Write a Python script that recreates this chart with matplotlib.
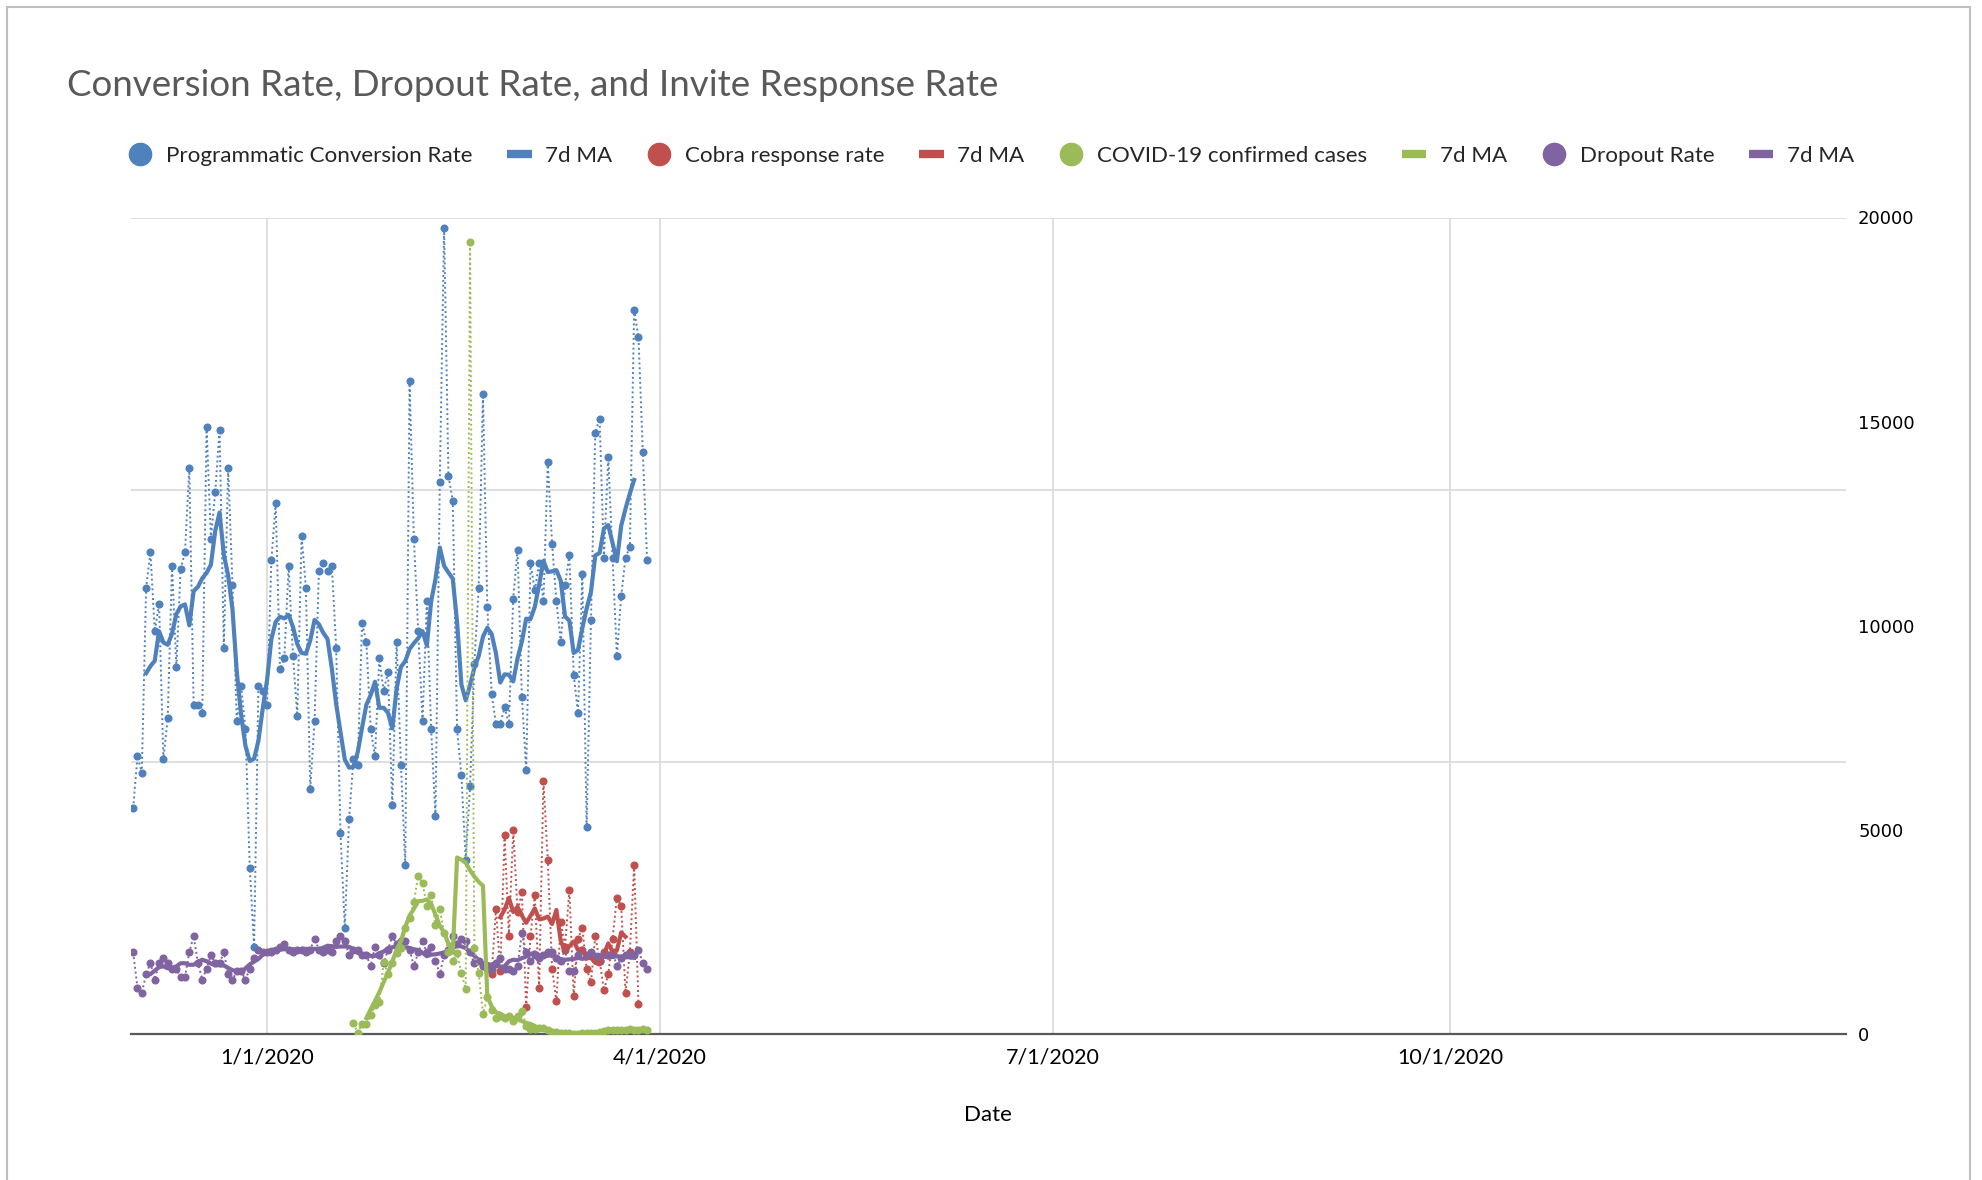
import matplotlib
matplotlib.use("Agg")
import matplotlib.pyplot as plt
from matplotlib.lines import Line2D
from matplotlib.patches import Rectangle
import pandas as pd

plt.rcParams['font.family'] = ['Lato', 'DejaVu Sans']

# daily values
conv_start = '2019-12-01'
conv_rate = [0.83, 1.02, 0.96, 1.64, 1.77, 1.48, 1.58, 1.01, 1.16, 1.72,
             1.35, 1.71, 1.77, 2.08, 1.21, 1.21, 1.18, 2.23, 1.82, 1.99,
             2.22, 1.42, 2.08, 1.65, 1.15, 1.28, 1.12, 0.61, 0.32, 1.28,
             1.26, 1.21, 1.74, 1.95, 1.34, 1.38, 1.72, 1.39, 1.17, 1.83,
             1.64, 0.90, 1.15, 1.70, 1.73, 1.70, 1.72, 1.42, 0.74, 0.39,
             0.79, 1.01, 0.99, 1.51, 1.44, 1.12, 1.02, 1.38, 1.26, 1.33,
             0.84, 1.44, 0.99, 0.62, 2.40, 1.82, 1.48, 1.15, 1.59, 1.12,
             0.80, 2.03, 2.96, 2.05, 1.96, 1.12, 0.95, 0.64, 0.91, 1.36,
             1.64, 2.35, 1.57, 1.25, 1.14, 1.14, 1.20, 1.14, 1.60, 1.78,
             1.24, 0.97, 1.73, 1.63, 1.73, 1.59, 2.10, 1.80, 1.59, 1.44,
             1.65, 1.76, 1.32, 1.18, 1.69, 0.76, 1.52, 2.21, 2.26, 1.75,
             2.12, 1.75, 1.39, 1.61, 1.75, 1.79, 2.66, 2.56, 2.14, 1.74]

dropout_start = '2019-12-01'
dropout_rate = [0.30, 0.17, 0.15, 0.22, 0.26, 0.20, 0.26, 0.28, 0.26, 0.24,
                0.24, 0.21, 0.21, 0.30, 0.36, 0.26, 0.20, 0.24, 0.29, 0.26,
                0.26, 0.30, 0.22, 0.20, 0.23, 0.23, 0.20, 0.24, 0.28, 0.31,
                0.30, 0.30, 0.30, 0.31, 0.32, 0.33, 0.31, 0.30, 0.31, 0.31,
                0.30, 0.31, 0.35, 0.31, 0.30, 0.31, 0.30, 0.34, 0.36, 0.34,
                0.29, 0.31, 0.31, 0.29, 0.29, 0.25, 0.32, 0.29, 0.26, 0.31,
                0.36, 0.33, 0.34, 0.34, 0.31, 0.25, 0.30, 0.34, 0.30, 0.32,
                0.27, 0.22, 0.29, 0.31, 0.36, 0.33, 0.35, 0.34, 0.30, 0.26,
                0.27, 0.25, 0.24, 0.24, 0.26, 0.28, 0.24, 0.24, 0.23, 0.25,
                0.37, 0.30, 0.27, 0.29, 0.28, 0.29, 0.30, 0.30, 0.28, 0.27,
                0.31, 0.23, 0.23, 0.29, 0.31, 0.29, 0.30, 0.28, 0.27, 0.30,
                0.29, 0.30, 0.25, 0.28, 0.29, 0.29, 0.29, 0.31, 0.26, 0.24]

cobra_start = '2020-02-21'
cobra_rate = [0.25, 0.22, 0.46, 0.23, 0.73, 0.36, 0.75, 0.45, 0.52, 0.10,
              0.36, 0.51, 0.17, 0.93, 0.64, 0.24, 0.12, 0.41, 0.32, 0.53,
              0.14, 0.35, 0.39, 0.24, 0.19, 0.36, 0.27, 0.16, 0.22, 0.35,
              0.50, 0.47, 0.15, 0.30, 0.62, 0.11]

covid_start = '2020-01-21'
covid_cases = [261, 30, 250, 250, 465, 700, 780, 1770, 1460, 1740,
               1980, 2100, 2590, 2830, 3240, 3880, 3690, 3140, 3400, 2660,
               3060, 2480, 2020, 1800, 1980, 1490, 1100, 19400, 2100, 1500,
               500, 900, 600, 400, 450, 400, 430, 330, 430, 570,
               200, 125, 120, 140, 140, 100, 45, 40, 20, 25,
               15, 10, 10, 20, 15, 20, 15, 60, 80, 90,
               100, 90, 110, 100, 120, 110, 100, 120, 110]

tick_dates = ['2020-01-01', '2020-04-01', '2020-07-01', '2020-10-01']
tick_labels = ['1/1/2020', '4/1/2020', '7/1/2020', '10/1/2020']
right_ticks = [0, 5000, 10000, 15000, 20000]

labels = ['Programmatic Conversion Rate', '7d MA', 'Cobra response rate', '7d MA',
          'COVID-19 confirmed cases', '7d MA', 'Dropout Rate', '7d MA']

blue = '#4F81BD'
red = '#C0504D'
green = '#9BBB59'
purple = '#8064A2'


def dates(start, vals):
    return pd.date_range(start, periods=len(vals), freq='D')


def ma7(vals):
    return pd.Series(vals).rolling(7, center=True).mean()


fig = plt.figure(figsize=(19.82, 11.80), dpi=100)
W, H = 1982, 1180
ax = fig.add_axes([131 / W, 1 - 1034 / H, (1845.6 - 131) / W, (1034 - 217.5) / H])
ax2 = ax.twinx()

dot = (0, (1, 1.5))
series = [
    (ax, conv_start, conv_rate, blue),
    (ax, cobra_start, cobra_rate, red),
    (ax, dropout_start, dropout_rate, purple),
    (ax2, covid_start, covid_cases, green),
]
for a, s, v, c in series:
    d = dates(s, v)
    a.plot(d, v, color=c, ls=dot, lw=1.4, marker='o', ms=4.8, zorder=3)
    a.plot(d, ma7(v), color=c, lw=3.0, zorder=4, solid_joinstyle='round')

x0 = pd.Timestamp('2019-11-30 12:00')
x1 = pd.Timestamp('2020-12-31 12:00')
ax.set_xlim(x0, x1)
ax.set_ylim(0, 3)
ax2.set_ylim(0, 20000)

ax.set_xticks(pd.to_datetime(tick_dates))
ax.set_xticklabels(tick_labels)
ax.set_yticks([0, 1, 2, 3])
ax.tick_params(axis='y', left=False, labelleft=False)
ax.tick_params(axis='x', length=0, pad=10, labelsize=15.5, colors='#000000')
ax.grid(True, color='#d9d9d9', lw=1.2)
ax.set_axisbelow(True)
for sp in ['top', 'right', 'left']:
    ax.spines[sp].set_visible(False)
ax.spines['bottom'].set_color('#595959')
ax.spines['bottom'].set_linewidth(1.6)

ax2.set_yticks(right_ticks)
ax2.set_yticklabels([str(t) for t in right_ticks], family='DejaVu Sans')
ax2.tick_params(axis='y', length=0, pad=9, labelsize=13, colors='#000000')
for sp in ax2.spines.values():
    sp.set_visible(False)

fig.text(67 / W, 1 - 86 / H, 'Conversion Rate, Dropout Rate, and Invite Response Rate',
         fontsize=26.5, color='#595959', va='center', ha='left')
fig.text(988 / W, 1 - 1115 / H, 'Date', fontsize=16, color='#000000',
         va='center', ha='center')

handles = []
for c in [blue, red, green, purple]:
    handles.append(Line2D([], [], color=c, marker='o', ls='none', ms=16))
    handles.append(Line2D([], [], color=c, lw=6, solid_capstyle='butt'))
fig.legend(handles, labels, loc='center', bbox_to_anchor=(991 / W, 1 - 156 / H),
           ncol=8, frameon=False, fontsize=16.1, handlelength=1.1,
           handletextpad=0.6, columnspacing=1.55, labelcolor='#262626')

fig.patches.append(Rectangle((7 / W, -0.1), (1970 - 7) / W, 1.1 - 7 / H,
                             transform=fig.transFigure, fill=False,
                             edgecolor='#bfbfbf', lw=1.5))

fig.savefig('out.png', dpi=100)
